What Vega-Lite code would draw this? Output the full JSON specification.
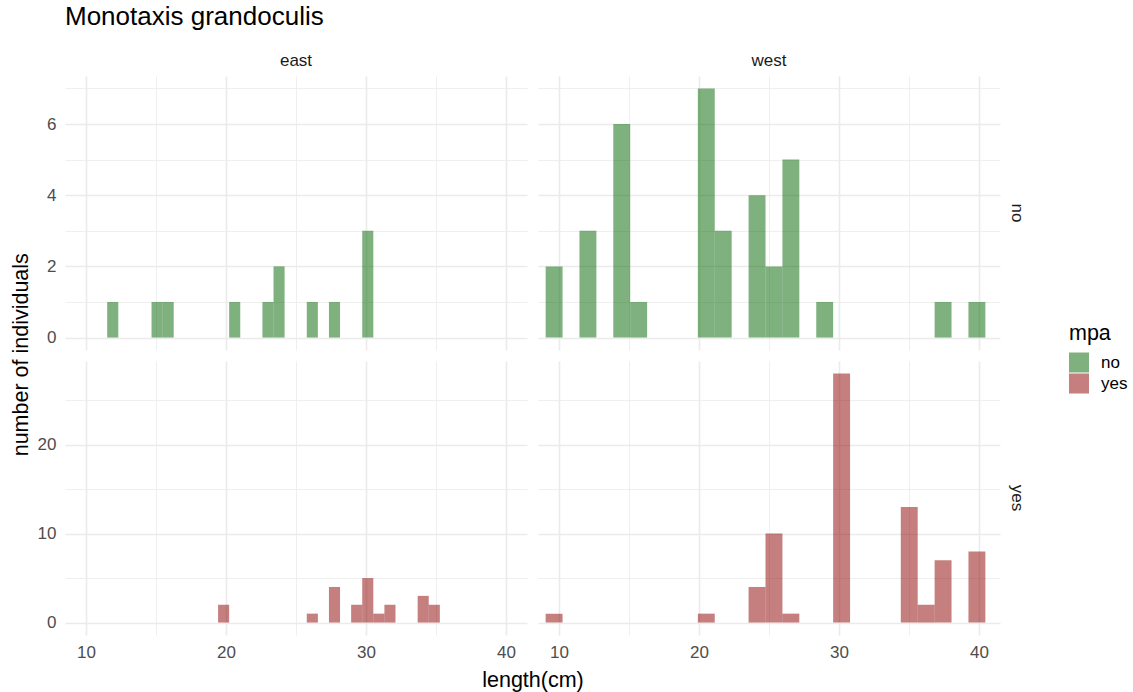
{
  "$schema": "https://vega.github.io/schema/vega-lite/v6.json",
  "padding": {"left": 10, "top": 4, "right": 0, "bottom": 0},
  "background": "white",
  "title": {
    "text": "Monotaxis grandoculis",
    "anchor": "start",
    "frame": "group",
    "fontSize": 26,
    "fontWeight": "normal",
    "color": "black",
    "offset": 22
  },
  "data": {
    "values": [
      {"region": "east", "mpa": "no", "bin_start": 11.514, "bin_end": 12.306, "count": 1},
      {"region": "east", "mpa": "no", "bin_start": 14.682, "bin_end": 15.474, "count": 1},
      {"region": "east", "mpa": "no", "bin_start": 15.474, "bin_end": 16.266, "count": 1},
      {"region": "east", "mpa": "no", "bin_start": 20.226, "bin_end": 21.018, "count": 1},
      {"region": "east", "mpa": "no", "bin_start": 22.602, "bin_end": 23.394, "count": 1},
      {"region": "east", "mpa": "no", "bin_start": 23.394, "bin_end": 24.186, "count": 2},
      {"region": "east", "mpa": "no", "bin_start": 25.770, "bin_end": 26.562, "count": 1},
      {"region": "east", "mpa": "no", "bin_start": 27.354, "bin_end": 28.146, "count": 1},
      {"region": "east", "mpa": "no", "bin_start": 29.730, "bin_end": 30.522, "count": 3},
      {"region": "east", "mpa": "yes", "bin_start": 19.434, "bin_end": 20.226, "count": 2},
      {"region": "east", "mpa": "yes", "bin_start": 25.770, "bin_end": 26.562, "count": 1},
      {"region": "east", "mpa": "yes", "bin_start": 27.354, "bin_end": 28.146, "count": 4},
      {"region": "east", "mpa": "yes", "bin_start": 28.938, "bin_end": 29.730, "count": 2},
      {"region": "east", "mpa": "yes", "bin_start": 29.730, "bin_end": 30.522, "count": 5},
      {"region": "east", "mpa": "yes", "bin_start": 30.522, "bin_end": 31.314, "count": 1},
      {"region": "east", "mpa": "yes", "bin_start": 31.314, "bin_end": 32.106, "count": 2},
      {"region": "east", "mpa": "yes", "bin_start": 33.690, "bin_end": 34.482, "count": 3},
      {"region": "east", "mpa": "yes", "bin_start": 34.482, "bin_end": 35.274, "count": 2},
      {"region": "west", "mpa": "no", "bin_start": 9.046, "bin_end": 10.254, "count": 2},
      {"region": "west", "mpa": "no", "bin_start": 11.462, "bin_end": 12.670, "count": 3},
      {"region": "west", "mpa": "no", "bin_start": 13.878, "bin_end": 15.086, "count": 6},
      {"region": "west", "mpa": "no", "bin_start": 15.086, "bin_end": 16.294, "count": 1},
      {"region": "west", "mpa": "no", "bin_start": 19.918, "bin_end": 21.126, "count": 7},
      {"region": "west", "mpa": "no", "bin_start": 21.126, "bin_end": 22.334, "count": 3},
      {"region": "west", "mpa": "no", "bin_start": 23.542, "bin_end": 24.750, "count": 4},
      {"region": "west", "mpa": "no", "bin_start": 24.750, "bin_end": 25.958, "count": 2},
      {"region": "west", "mpa": "no", "bin_start": 25.958, "bin_end": 27.166, "count": 5},
      {"region": "west", "mpa": "no", "bin_start": 28.374, "bin_end": 29.582, "count": 1},
      {"region": "west", "mpa": "no", "bin_start": 36.830, "bin_end": 38.038, "count": 1},
      {"region": "west", "mpa": "no", "bin_start": 39.246, "bin_end": 40.454, "count": 1},
      {"region": "west", "mpa": "yes", "bin_start": 9.046, "bin_end": 10.254, "count": 1},
      {"region": "west", "mpa": "yes", "bin_start": 19.918, "bin_end": 21.126, "count": 1},
      {"region": "west", "mpa": "yes", "bin_start": 23.542, "bin_end": 24.750, "count": 4},
      {"region": "west", "mpa": "yes", "bin_start": 24.750, "bin_end": 25.958, "count": 10},
      {"region": "west", "mpa": "yes", "bin_start": 25.958, "bin_end": 27.166, "count": 1},
      {"region": "west", "mpa": "yes", "bin_start": 29.582, "bin_end": 30.790, "count": 28},
      {"region": "west", "mpa": "yes", "bin_start": 34.414, "bin_end": 35.622, "count": 13},
      {"region": "west", "mpa": "yes", "bin_start": 35.622, "bin_end": 36.830, "count": 2},
      {"region": "west", "mpa": "yes", "bin_start": 36.830, "bin_end": 38.038, "count": 7},
      {"region": "west", "mpa": "yes", "bin_start": 39.246, "bin_end": 40.454, "count": 8}
    ]
  },
  "vconcat": [
    {
      "title": {
        "text": "number of individuals",
        "orient": "left",
        "anchor": "middle",
        "frame": "bounds",
        "fontSize": 21.5,
        "fontWeight": "normal",
        "color": "black",
        "offset": 5,
        "dx": 17
      },
      "spacing": 11,
      "vconcat": [
        {
          "transform": [{"filter": "datum.mpa === 'no'"}],
          "facet": {
            "row": {"field": "mpa", "type": "nominal",
              "header": {"title": null, "labelOrient": "right", "labelAngle": 90, "labelPadding": 8}},
            "column": {"field": "region", "type": "nominal",
              "header": {"title": null, "labelOrient": "top", "labelPadding": 6}}
          },
          "spacing": {"row": 11, "column": 11},
          "spec": {
            "width": 462,
            "height": 274,
            "mark": {"type": "bar", "opacity": 0.5},
            "encoding": {
              "x": {"field": "bin_start", "type": "quantitative",
                "scale": {"domain": [8.5, 41.5], "nice": false, "zero": false},
                "axis": {"title": null, "values": [10, 15, 20, 25, 30, 35, 40], "labels": false,
                  "gridWidth": {"condition": {"test": "datum.value % 10 === 0", "value": 1.6}, "value": 0.8}}},
              "x2": {"field": "bin_end"},
              "y": {"field": "count", "type": "quantitative",
                "scale": {"domain": [-0.35, 7.35], "nice": false, "zero": false},
                "axis": {"title": null, "values": [0, 1, 2, 3, 4, 5, 6, 7],
                  "labelExpr": "datum.value % 2 === 0 ? datum.label : ''",
                  "gridWidth": {"condition": {"test": "datum.value % 2 === 0", "value": 1.6}, "value": 0.8}}},
              "y2": {"datum": 0},
              "color": {"field": "mpa", "type": "nominal",
                "scale": {"domain": ["no", "yes"], "range": ["#006400", "#8b0000"]},
                "legend": {"title": "mpa", "orient": "none", "legendX": 1004, "legendY": 247}}
            }
          }
        },
        {
          "transform": [{"filter": "datum.mpa === 'yes'"}],
          "facet": {
            "row": {"field": "mpa", "type": "nominal",
              "header": {"title": null, "labelOrient": "right", "labelAngle": 90, "labelPadding": 8}},
            "column": {"field": "region", "type": "nominal",
              "header": {"title": "length(cm)", "titleOrient": "bottom", "labels": false, "titlePadding": 0}}
          },
          "spacing": {"row": 11, "column": 11},
          "spec": {
            "width": 462,
            "height": 274,
            "mark": {"type": "bar", "opacity": 0.5},
            "encoding": {
              "x": {"field": "bin_start", "type": "quantitative",
                "scale": {"domain": [8.5, 41.5], "nice": false, "zero": false},
                "axis": {"title": null, "values": [10, 15, 20, 25, 30, 35, 40],
                  "labelExpr": "datum.value % 10 === 0 ? datum.label : ''",
                  "gridWidth": {"condition": {"test": "datum.value % 10 === 0", "value": 1.6}, "value": 0.8}}},
              "x2": {"field": "bin_end"},
              "y": {"field": "count", "type": "quantitative",
                "scale": {"domain": [-1.4, 29.4], "nice": false, "zero": false},
                "axis": {"title": null, "values": [0, 5, 10, 15, 20, 25],
                  "labelExpr": "datum.value % 10 === 0 ? datum.label : ''",
                  "gridWidth": {"condition": {"test": "datum.value % 10 === 0", "value": 1.6}, "value": 0.8}}},
              "y2": {"datum": 0},
              "color": {"field": "mpa", "type": "nominal",
                "scale": {"domain": ["no", "yes"], "range": ["#006400", "#8b0000"]},
                "legend": {"title": "mpa", "orient": "none", "legendX": 1004, "legendY": 247}}
            }
          }
        }
      ]
    }
  ],
  "config": {
    "font": "Liberation Sans",
    "view": {"stroke": null},
    "axis": {
      "domain": false,
      "ticks": false,
      "tickSize": 0,
      "gridColor": "#ebebeb",
      "labelColor": "#4d4d4d",
      "labelFontSize": 17,
      "labelPadding": 9,
      "titleFontSize": 21.5,
      "titleFontWeight": "normal",
      "titleColor": "black"
    },
    "header": {
      "labelFontSize": 17,
      "labelColor": "#1a1a1a",
      "titleFontSize": 21.5,
      "titleFontWeight": "normal",
      "titleColor": "black"
    },
    "legend": {
      "titleFontSize": 21.5,
      "titleFontWeight": "normal",
      "titleColor": "black",
      "labelFontSize": 17,
      "labelColor": "black",
      "labelOffset": 12,
      "symbolType": "square",
      "symbolSize": 400,
      "symbolStrokeWidth": 0,
      "rowPadding": 1,
      "titlePadding": 8
    }
  }
}
